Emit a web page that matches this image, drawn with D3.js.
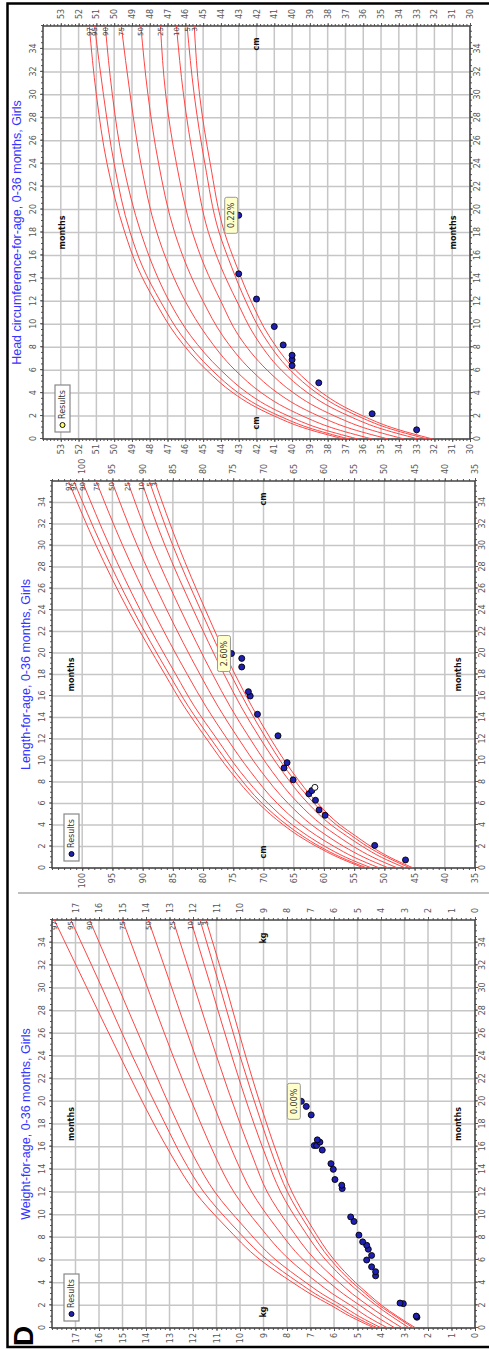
<!doctype html>
<html lang="en">
<head>
<meta charset="UTF-8">
<title>Growth charts, girls 0-36 months</title>
<script src="https://cdn.jsdelivr.net/npm/d3@7"></script>
<style>
  body { margin: 0; background: #fff; }
  svg { display: block; }
</style>
</head>
<body>
<svg width="489" height="1349"></svg>
<script>
const curveAges = [0, 1, 2, 3, 4, 6, 9, 12, 15, 18, 24, 30, 36];
const percentiles = ["3", "5", "10", "25", "50", "75", "90", "95", "97"];
const monthTicks = [0, 2, 4, 6, 8, 10, 12, 14, 16, 18, 20, 22, 24, 26, 28, 30, 32, 34];

// head circumference (cm)
const headTicks = [30, 31, 32, 33, 34, 35, 36, 37, 38, 39, 40, 41, 42, 43, 44, 45, 46, 47, 48, 49, 50, 51, 52, 53];
const headCurves = [
  [32.1, 34.4, 36.0, 37.3, 38.3, 39.8, 41.3, 42.3, 43.1, 43.8, 44.6, 45.2, 45.5],
  [32.4, 34.7, 36.3, 37.6, 38.6, 40.1, 41.6, 42.6, 43.4, 44.1, 44.9, 45.5, 45.9],
  [32.9, 35.2, 36.8, 38.1, 39.1, 40.6, 42.1, 43.1, 44.0, 44.7, 45.5, 46.1, 46.5],
  [33.7, 36.0, 37.6, 38.9, 39.9, 41.4, 43.0, 44.0, 44.9, 45.6, 46.5, 47.1, 47.4],
  [34.6, 36.9, 38.5, 39.8, 40.8, 42.3, 43.9, 45.0, 45.9, 46.6, 47.5, 48.1, 48.5],
  [35.5, 37.8, 39.4, 40.7, 41.7, 43.2, 44.8, 46.0, 46.9, 47.6, 48.5, 49.1, 49.6],
  [36.3, 38.6, 40.2, 41.5, 42.5, 44.0, 45.7, 46.9, 47.8, 48.5, 49.5, 50.1, 50.5],
  [36.8, 39.1, 40.7, 42.0, 43.0, 44.5, 46.2, 47.4, 48.4, 49.1, 50.0, 50.6, 51.1],
  [37.1, 39.4, 41.0, 42.3, 43.3, 44.8, 46.5, 47.7, 48.7, 49.4, 50.4, 51.0, 51.4]
];
const headAges = [0.8, 2.2, 4.9, 6.4, 6.9, 7.3, 8.2, 9.8, 12.2, 14.4, 19.5];
const headValues = [33.0, 35.5, 38.5, 40.0, 40.0, 40.0, 40.5, 41.0, 42.0, 43.0, 43.0];

// length (cm)
const lengthTicks = [35, 40, 45, 50, 55, 60, 65, 70, 75, 80, 85, 90, 95, 100];
const lengthCurves = [
  [45.2, 49.1, 52.2, 54.8, 57.3, 61.0, 65.3, 68.8, 71.9, 74.7, 79.6, 84.1, 88.0],
  [45.7, 49.6, 52.8, 55.4, 57.9, 61.6, 66.0, 69.5, 72.6, 75.4, 80.4, 85.0, 88.9],
  [46.5, 50.5, 53.6, 56.3, 58.8, 62.6, 66.9, 70.5, 73.7, 76.5, 81.6, 86.3, 90.2],
  [47.8, 51.9, 55.1, 57.8, 60.3, 64.2, 68.6, 72.2, 75.5, 78.4, 83.7, 88.5, 92.5],
  [49.3, 53.4, 56.7, 59.5, 62.0, 65.9, 70.4, 74.1, 77.5, 80.5, 86.0, 90.9, 95.1],
  [50.8, 55.0, 58.3, 61.2, 63.7, 67.7, 72.2, 76.0, 79.5, 82.6, 88.3, 93.3, 97.7],
  [52.1, 56.4, 59.8, 62.7, 65.2, 69.2, 73.9, 77.7, 81.4, 84.5, 90.4, 95.5, 100.0],
  [52.9, 57.2, 60.7, 63.6, 66.1, 70.2, 74.8, 78.7, 82.4, 85.6, 91.6, 96.8, 101.4],
  [53.4, 57.7, 61.2, 64.2, 66.7, 70.8, 75.5, 79.4, 83.1, 86.3, 92.4, 97.7, 102.3]
];
const lengthAges = [0.75, 2.1, 4.9, 5.4, 6.3, 6.9, 7.2, 7.5, 8.2, 9.3, 9.8, 12.3, 14.3, 16.0, 16.4, 18.7, 19.5, 19.95];
const lengthValues = [46.5, 51.6, 59.8, 60.8, 61.4, 62.5, 62.0, 61.5, 65.1, 66.6, 66.1, 67.6, 71.0, 72.2, 72.5, 73.6, 73.6, 75.3];
const lengthHollow = [7];

// weight (kg)
const weightTicks = [0, 1, 2, 3, 4, 5, 6, 7, 8, 9, 10, 11, 12, 13, 14, 15, 16, 17];
const weightCurves = [
  [2.52, 3.28, 3.97, 4.54, 5.08, 5.99, 6.97, 7.79, 8.36, 8.86, 9.76, 10.58, 11.45],
  [2.62, 3.36, 4.07, 4.65, 5.21, 6.13, 7.14, 7.98, 8.57, 9.07, 10.0, 10.84, 11.7],
  [2.79, 3.53, 4.21, 4.82, 5.39, 6.35, 7.40, 8.27, 8.87, 9.40, 10.35, 11.22, 12.1],
  [3.09, 3.86, 4.56, 5.21, 5.77, 6.79, 7.91, 8.84, 9.44, 9.99, 11.0, 11.93, 12.85],
  [3.4, 4.2, 4.9, 5.6, 6.2, 7.3, 8.5, 9.5, 10.2, 10.8, 11.9, 12.9, 13.9],
  [3.71, 4.58, 5.29, 6.05, 6.70, 7.88, 9.18, 10.26, 11.02, 11.66, 12.85, 13.93, 15.0],
  [3.98, 4.91, 5.68, 6.50, 7.19, 8.47, 9.86, 11.07, 11.93, 12.64, 13.92, 15.16, 16.4],
  [4.15, 5.12, 5.93, 6.78, 7.50, 8.83, 10.29, 11.54, 12.44, 13.18, 14.58, 15.87, 17.2],
  [4.28, 5.29, 6.13, 7.0, 7.75, 9.13, 10.63, 11.92, 12.85, 13.66, 15.11, 16.51, 17.9]
];
const weightAges = [0.95, 1.05, 2.15, 2.2, 4.6, 4.97, 5.4, 6.0, 6.4, 6.95, 7.3, 7.6, 8.2, 9.4, 9.8, 12.3, 12.6, 13.1, 14.0, 14.5, 15.7, 16.1, 16.1, 16.4, 16.6, 18.8, 19.55, 20.0];
const weightValues = [2.47, 2.5, 3.05, 3.19, 4.23, 4.23, 4.40, 4.61, 4.40, 4.54, 4.61, 4.78, 4.94, 5.15, 5.29, 5.65, 5.67, 5.96, 6.03, 6.13, 6.5, 6.84, 6.74, 6.6, 6.71, 6.97, 7.18, 7.39];

const font = "'DejaVu Sans', Verdana, sans-serif";
const svg = d3.select("svg");

// outer frame
svg.append("rect")
  .attr("x", 7.5).attr("y", 3.5).attr("width", 495).attr("height", 1343.5)
  .attr("fill", "none").attr("stroke", "#000").attr("stroke-width", 2.5);
svg.append("line")
  .attr("x1", 18).attr("x2", 489).attr("y1", 893).attr("y2", 893)
  .attr("stroke", "#aaa").attr("stroke-width", 1.5);

const panels = [
  { key: "head", title: "Head circumference-for-age, 0-36 months, Girls", unit: "cm",
    base: 439, len: 413, top: 43, bottom: 470, titleY: 21, domain: [30, 54], minor: 0.2,
    ticks: headTicks, curves: headCurves, ages: headAges, values: headValues, hollow: [],
    tip: "0.22%", legendFill: "#ffff66" },
  { key: "length", title: "Length-for-age, 0-36 months, Girls", unit: "cm",
    base: 868, len: 387, top: 52, bottom: 475, titleY: 30, domain: [35, 105], minor: 1,
    ticks: lengthTicks, curves: lengthCurves, ages: lengthAges, values: lengthValues, hollow: lengthHollow,
    tip: "2.60%", legendFill: "#1f1fb4" },
  { key: "weight", title: "Weight-for-age, 0-36 months, Girls", unit: "kg",
    base: 1328, len: 408, top: 52, bottom: 475, titleY: 30, domain: [0, 18], minor: 0.2,
    ticks: weightTicks, curves: weightCurves, ages: weightAges, values: weightValues, hollow: [],
    tip: "0.00%", legendFill: "#1f1fb4" }
];

function styleAxis(sel) {
  sel.select(".domain").remove();
  sel.selectAll("line").attr("stroke", "#555");
  sel.selectAll("text").attr("font-size", 8).attr("fill", "#555").attr("font-family", font);
}

panels.forEach(p => {
  // chart is drawn upright, then turned a quarter turn counter-clockwise
  const g = svg.append("g").attr("transform", `translate(0,${p.base}) rotate(-90)`);
  const x = d3.scaleLinear().domain([0, 36]).range([0, p.len]);
  const y = d3.scaleLinear().domain(p.domain).range([p.bottom, p.top]);
  const h = p.bottom - p.top;

  g.append("clipPath").attr("id", "clip-" + p.key)
    .append("rect").attr("x", 0).attr("y", p.top).attr("width", p.len).attr("height", h);

  // grid
  g.append("g").selectAll("line").data(monthTicks).join("line")
    .attr("x1", d => x(d)).attr("x2", d => x(d)).attr("y1", p.top).attr("y2", p.bottom)
    .attr("stroke", "#c6c6c6").attr("stroke-width", 1.5);
  g.append("g").selectAll("line").data(p.ticks).join("line")
    .attr("x1", 0).attr("x2", p.len).attr("y1", d => y(d)).attr("y2", d => y(d))
    .attr("stroke", "#c6c6c6").attr("stroke-width", 1.5);

  // axes on all four sides, with minor ticks
  const minorMonths = d3.range(0, 36.01, 0.5);
  const minorVals = d3.range(p.domain[0], p.domain[1] + 0.001, p.minor);
  g.append("g").attr("transform", `translate(0,${p.top})`)
    .call(d3.axisTop(x).tickValues(minorMonths).tickSize(2).tickFormat("")).call(styleAxis);
  g.append("g").attr("transform", `translate(0,${p.bottom})`)
    .call(d3.axisBottom(x).tickValues(minorMonths).tickSize(2).tickFormat("")).call(styleAxis);
  g.append("g")
    .call(d3.axisLeft(y).tickValues(minorVals).tickSize(2).tickFormat("")).call(styleAxis);
  g.append("g").attr("transform", `translate(${p.len},0)`)
    .call(d3.axisRight(y).tickValues(minorVals).tickSize(2).tickFormat("")).call(styleAxis);

  g.append("g").attr("transform", `translate(0,${p.top})`)
    .call(d3.axisTop(x).tickValues(monthTicks).tickSize(3).tickPadding(4)).call(styleAxis);
  g.append("g").attr("transform", `translate(0,${p.bottom})`)
    .call(d3.axisBottom(x).tickValues(monthTicks).tickSize(3).tickPadding(1)).call(styleAxis);
  g.append("g")
    .call(d3.axisLeft(y).tickValues(p.ticks).tickSize(3).tickPadding(2)).call(styleAxis);
  g.append("g").attr("transform", `translate(${p.len},0)`)
    .call(d3.axisRight(y).tickValues(p.ticks).tickSize(3).tickPadding(4)).call(styleAxis);

  // plot border
  g.append("rect").attr("x", 0).attr("y", p.top).attr("width", p.len).attr("height", h)
    .attr("fill", "none").attr("stroke", "#444").attr("stroke-width", 1.5);

  // title and axis names
  g.append("text").attr("x", p.len / 2).attr("y", p.titleY)
    .attr("text-anchor", "middle").attr("font-family", "'Liberation Sans', Arial, sans-serif")
    .attr("font-size", 12.5).attr("fill", "#3535ff").text(p.title);
  [p.top + 19, p.bottom - 17].forEach(ly => {
    g.append("text").attr("x", p.len / 2).attr("y", ly).attr("dy", "0.35em")
      .attr("text-anchor", "middle").attr("font-family", font).attr("font-size", 8)
      .attr("font-weight", "bold").attr("fill", "#111").text("months");
  });
  [16, p.len - 18].forEach(lx => {
    g.append("text").attr("x", lx).attr("y", (p.top + p.bottom) / 2).attr("dy", "0.35em")
      .attr("text-anchor", "middle").attr("font-family", font).attr("font-size", 8)
      .attr("font-weight", "bold").attr("fill", "#111").text(p.unit);
  });

  // percentile curves
  const line = d3.line().x((d, i) => x(curveAges[i])).y(d => y(d)).curve(d3.curveMonotoneX);
  g.append("g").attr("clip-path", `url(#clip-${p.key})`)
    .selectAll("path").data(p.curves).join("path")
    .attr("d", line).attr("fill", "none").attr("stroke", "#ff4545").attr("stroke-width", 1);
  g.append("g").selectAll("text").data(p.curves).join("text")
    .attr("x", x(36) - 1).attr("y", d => y(d[d.length - 1])).attr("dy", "0.35em")
    .attr("text-anchor", "end").attr("font-family", font).attr("font-size", 7).attr("fill", "#444")
    .text((d, i) => percentiles[i]);

  // measurements
  g.append("g").selectAll("circle").data(p.ages).join("circle")
    .attr("cx", d => x(d)).attr("cy", (d, i) => y(p.values[i])).attr("r", 3)
    .attr("fill", (d, i) => p.hollow.includes(i) ? "#fff" : "#1f1fb4")
    .attr("stroke", "#000").attr("stroke-width", 0.9);

  // tooltip on the latest measurement
  const last = p.ages.length - 1;
  const tx = x(p.ages[last]), ty = y(p.values[last]);
  g.append("rect").attr("x", tx - 18).attr("y", ty - 14).attr("width", 36).attr("height", 13)
    .attr("rx", 2).attr("fill", "#ffffcc").attr("stroke", "#999").attr("stroke-width", 1);
  g.append("text").attr("x", tx).attr("y", ty - 7.5).attr("dy", "0.35em")
    .attr("text-anchor", "middle").attr("font-family", font).attr("font-size", 8)
    .attr("fill", "#333").text(p.tip);

  // legend
  const lg = g.append("g").attr("transform", `translate(7,${p.top + 12})`);
  lg.append("rect").attr("width", 47).attr("height", 15)
    .attr("fill", "#fff").attr("stroke", "#888").attr("stroke-width", 1.2);
  lg.append("circle").attr("cx", 7).attr("cy", 7.5).attr("r", 2.5)
    .attr("fill", p.legendFill).attr("stroke", "#000").attr("stroke-width", 0.9);
  lg.append("text").attr("x", 13).attr("y", 7.5).attr("dy", "0.35em")
    .attr("font-family", font).attr("font-size", 8).attr("fill", "#333").text("Results");

  if (p.key === "weight") {
    g.append("text").attr("x", -18).attr("y", 33)
      .attr("font-family", "'Liberation Sans', Arial, sans-serif").attr("font-size", 28)
      .attr("font-weight", "bold").attr("fill", "#000").text("D");
  }
});
</script>
</body>
</html>
